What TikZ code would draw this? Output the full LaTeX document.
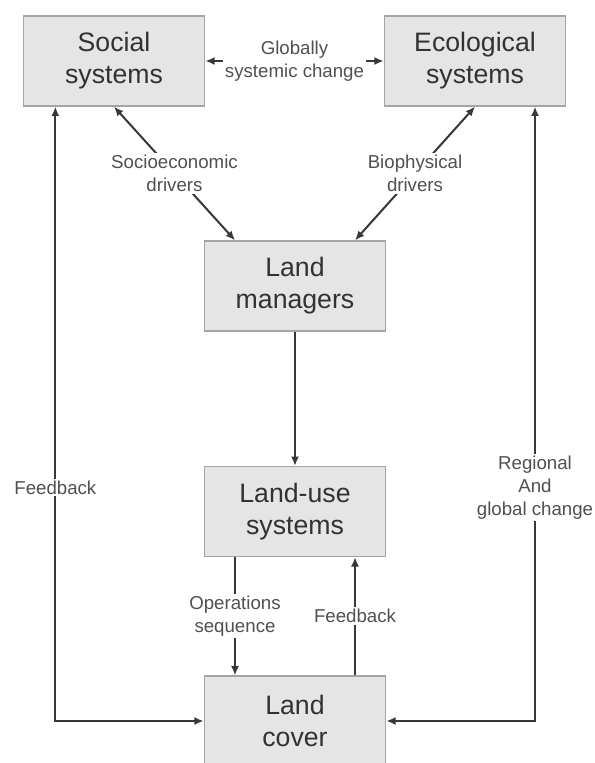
\documentclass[tikz,border=0pt]{standalone}
\usepackage{fontspec}
\setmainfont{Liberation Sans}
\usetikzlibrary{arrows.meta}

\begin{document}
\begin{tikzpicture}[x=0.75pt, y=-0.75pt,
    sysbox/.style={draw=boxEdge, fill=boxFill, line width=1pt, text=boxText,
      minimum width=136pt, minimum height=67.5pt, align=center,
      font=\fontsize{20}{24}\selectfont},
    lbl/.style={fill=white, text=lblText, align=center, inner sep=1.5pt,
      font=\fontsize{14}{17}\selectfont},
    link/.style={draw=lineCol, line width=1.5pt, -{Latex[length=7pt,width=6pt]}},
    both/.style={link, {Latex[length=7pt,width=6pt]}-{Latex[length=7pt,width=6pt]}}]

  % Colors (grayscale)
  \definecolor{boxFill}{RGB}{229,229,229}
  \definecolor{boxEdge}{RGB}{165,165,165}
  \definecolor{boxText}{RGB}{50,50,50}
  \definecolor{lblText}{RGB}{80,80,80}
  \definecolor{lineCol}{RGB}{55,55,55}

  % Page size (same as the reference image, in pixels)
  \useasboundingbox (0,0) rectangle (594,763);

  % --- Boxes ---
  \node[sysbox] (social)     at (114, 61)   {Social\\systems};
  \node[sysbox] (ecological) at (475, 61)   {Ecological\\systems};
  \node[sysbox] (managers)   at (295, 286)  {Land\\managers};
  \node[sysbox] (landuse)    at (295, 511.5) {Land-use\\systems};
  \node[sysbox] (landcover)  at (295, 721)  {Land\\cover};

  % --- Top link between the two systems ---
  \draw[both] (social) -- (ecological)
    node[lbl, midway] {Globally\\systemic change};

  % --- Drivers into the land managers ---
  \draw[both] ([xshift=-45pt]managers.north) -- (social.south)
    node[lbl, midway] {Socioeconomic\\drivers};
  \draw[both] ([xshift=45pt]managers.north) -- (ecological.south)
    node[lbl, midway] {Biophysical\\drivers};

  % --- Central chain ---
  \draw[link] (managers) -- (landuse);
  \draw[link] ([xshift=-45pt]landuse.south) -- ([xshift=-45pt]landcover.north)
    node[lbl, midway] {Operations\\sequence};
  \draw[link] ([xshift=45pt]landcover.north) -- ([xshift=45pt]landuse.south)
    node[lbl, midway] {Feedback};

  % --- Outer loops down to the land cover ---
  \draw[both] ([xshift=-44pt]social.south) |- (landcover.west)
    node[lbl, pos=0.31] {Feedback};
  \draw[both] ([xshift=45pt]ecological.south) |- (landcover.east)
    node[lbl, pos=0.31] {Regional\\And\\global change};

\end{tikzpicture}
\end{document}
